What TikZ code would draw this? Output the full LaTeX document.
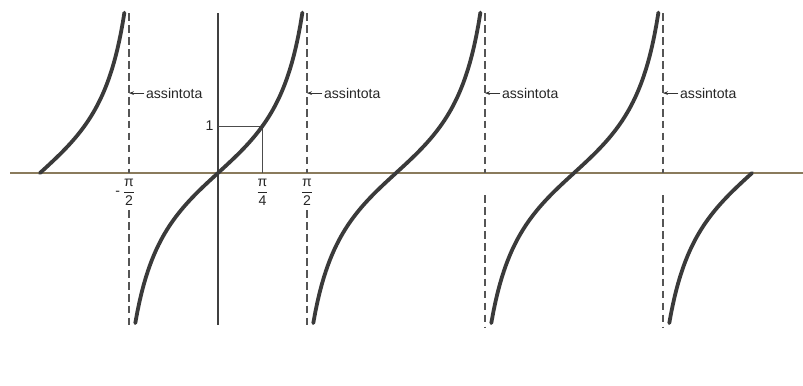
\documentclass[tikz,border=0pt]{standalone}
\usepackage{amsmath}
\usepackage{fontspec}
\setmainfont{Liberation Sans}
\usepackage{tikz}
\usetikzlibrary{positioning,arrows.meta}
\definecolor{curvegray}{RGB}{58,58,58}
\definecolor{axisbrown}{RGB}{138,123,92}
\definecolor{dashgray}{RGB}{85,85,85}
\newcommand{\fr}[2]{$\genfrac{}{}{0.6pt}{0}{\mbox{#1}}{\mbox{#2}}$}
\tikzset{
  curve/.style={line width=2.7pt, draw=curvegray, line cap=round},
  axisline/.style={line width=1pt, draw=axisbrown},
  yaxis/.style={line width=0.8pt, draw=black!75},
  guide/.style={line width=0.7pt, draw=black!70},
  asym/.style={dash pattern=on 5.5pt off 3pt, line width=0.75pt, draw=dashgray},
  lbl/.style={font=\normalsize, inner sep=1pt, text=black!85},
  tip/.style={-{Stealth[length=3.5pt,width=2.6pt]}, line width=0.6pt, draw=black!80},
}

\begin{document}
\begin{tikzpicture}[x=1.4165cm, y=1.175cm]
    \useasboundingbox (-5.45cm,-5.325cm) rectangle (14.625cm,4.325cm);
    % axes
    \draw[axisline] (-3.67,0) -- (10.33,0);
    \draw[yaxis] (0,3.40) -- (0,-3.23);
    % value at pi/4
    \coordinate (one) at (0,1);
    \coordinate (p4) at ({pi/4},0);
    \coordinate (q4) at ({pi/4},1);
    \draw[guide] (one) -- (q4) -- (p4);
    \node[lbl, left=2pt of one] (lone) {1};
    \node[lbl, below=3pt of p4] (lp4) {\fr{π}{4}};
    % asymptotes
    \foreach \k/\lo [count=\i] in {-1/-0.79, 1/-0.79, 3/-0.47, 5/-0.47}{
      \coordinate (top\i) at ({\k*pi/2},3.40);
      \coordinate (ax\i) at ({\k*pi/2},0);
      \coordinate (asy\i) at ({\k*pi/2},1.70);
      \draw[asym] (top\i) -- (ax\i);
      \draw[asym] ({\k*pi/2},\lo) -- ({\k*pi/2},-3.28);
      \node[lbl, right=11pt of asy\i] (txt\i) {assintota};
      \draw[tip] (txt\i.west) -- (asy\i);
    }
    \node[lbl, below=3pt of ax1] (lm2) {\makebox[0pt][r]{-\,}\fr{π}{2}};
    \node[lbl, below=3pt of ax2] (lp2) {\fr{π}{2}};
    % branches of the tangent
    \foreach \k in {0,1,2}{
      \draw[curve, shift={({\k*pi},0)}, domain=-1.46:1.49, samples=80]
        plot (\x,{1.386*tan(deg(0.7955*\x))});
    }
    \draw[curve, shift={({-pi},0)}, domain=0:1.49, samples=50]
      plot (\x,{1.386*tan(deg(0.7955*\x))});
    \draw[curve, shift={({3*pi},0)}, domain=-1.46:0, samples=50]
      plot (\x,{1.386*tan(deg(0.7955*\x))});
  \end{tikzpicture}
\end{document}
